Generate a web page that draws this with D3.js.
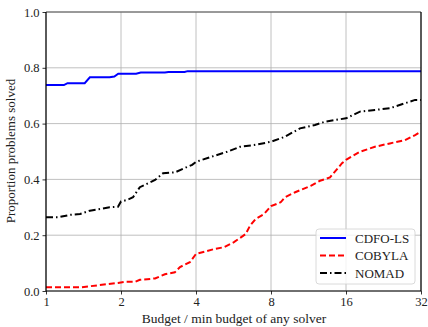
<!DOCTYPE html>
<html>
<head>
<meta charset="utf-8">
<script src="https://cdn.jsdelivr.net/npm/d3@7"></script>
<style>
  body { margin: 0; background: white; }
  svg { display: block; }
  text { font-family: "Liberation Serif", "DejaVu Serif", serif; fill: #222; }
</style>
</head>
<body>
<script>
// budget ratios (x) and proportions solved (y)
const cdfoBudget = [1, 1.18, 1.22, 1.43, 1.5, 1.8, 1.88, 1.95, 2.3, 2.4, 3.0, 3.1, 3.6, 3.7, 32];
const cdfoSolved = [0.738, 0.738, 0.745, 0.745, 0.766, 0.766, 0.769, 0.779, 0.779, 0.783, 0.783, 0.785, 0.785, 0.788, 0.788];

const cobylaBudget = [1, 1.37, 1.5, 1.945, 2.075, 2.28, 2.38, 2.74, 3.0, 3.29, 3.45, 3.78, 4, 4.72, 5.18, 5.68,
  6.33, 6.59, 6.94, 7.5, 8, 8.75, 9.1, 10, 11.55, 12.58, 13.8, 15.42, 16, 18.2, 20.9, 24, 27.6, 30.3, 32];
const cobylaSolved = [0.013, 0.013, 0.017, 0.029, 0.033, 0.033, 0.04, 0.045, 0.06, 0.067, 0.086, 0.103, 0.133, 0.15, 0.157, 0.175,
  0.204, 0.234, 0.258, 0.276, 0.304, 0.318, 0.336, 0.354, 0.377, 0.395, 0.407, 0.458, 0.47, 0.499, 0.517, 0.529, 0.541, 0.559, 0.571];

const nomadBudget = [1, 1.117, 1.25, 1.37, 1.5, 1.65, 1.8, 1.945, 2, 2.11, 2.235, 2.38, 2.54, 2.74, 2.95, 3.29, 3.65, 3.86, 4,
  4.72, 5.33, 6.01, 6.84, 8, 9.1, 10.46, 12.01, 13.18, 16, 18.2, 20.9, 24, 27.6, 30.3, 32];
const nomadSolved = [0.264, 0.264, 0.273, 0.276, 0.288, 0.294, 0.3, 0.302, 0.321, 0.326, 0.336, 0.372, 0.384, 0.398, 0.422, 0.425, 0.443, 0.452, 0.463,
  0.484, 0.499, 0.517, 0.523, 0.535, 0.553, 0.583, 0.595, 0.607, 0.619, 0.643, 0.649, 0.655, 0.673, 0.685, 0.685];

const xTicks = [1, 2, 4, 8, 16, 32];
const yTicks = [0, 0.2, 0.4, 0.6, 0.8, 1.0];

const series = [
  { name: 'CDFO-LS', color: '#0000ff', dash: null, xs: cdfoBudget, ys: cdfoSolved },
  { name: 'COBYLA', color: '#ff0000', dash: '6,3', xs: cobylaBudget, ys: cobylaSolved },
  { name: 'NOMAD', color: '#000000', dash: '7,3,1.5,3', xs: nomadBudget, ys: nomadSolved },
];

const width = 428;
const height = 327;
const marginLeft = 46;
const marginRight = 7;
const marginTop = 12;
const marginBottom = 36;

const x = d3.scaleLog().base(2)
  .domain([1, 32])
  .range([marginLeft, width - marginRight]);

const y = d3.scaleLinear()
  .domain([0, 1])
  .range([height - marginBottom, marginTop]);

const svg = d3.select('body').append('svg')
  .attr('width', width)
  .attr('height', height);

// grid
svg.append('g')
  .attr('stroke', '#b0b0b0')
  .attr('stroke-width', 0.8)
  .call((g) => g.selectAll('line.vx').data(xTicks).join('line')
    .attr('x1', (d) => x(d)).attr('x2', (d) => x(d))
    .attr('y1', y(0)).attr('y2', y(1)))
  .call((g) => g.selectAll('line.hy').data(yTicks).join('line')
    .attr('x1', x(1)).attr('x2', x(32))
    .attr('y1', (d) => y(d)).attr('y2', (d) => y(d)));

// lines
const line = d3.line()
  .x((d) => x(d[0]))
  .y((d) => y(d[1]));

series.forEach((s) => {
  svg.append('path')
    .datum(s.xs.map((v, i) => [v, s.ys[i]]))
    .attr('fill', 'none')
    .attr('stroke', s.color)
    .attr('stroke-width', 2)
    .attr('stroke-dasharray', s.dash)
    .attr('d', line);
});

// axes
const gx = svg.append('g')
  .attr('transform', `translate(0,${y(0)})`)
  .call(d3.axisBottom(x).tickValues(xTicks).tickFormat(d3.format('d')).tickSize(3.5).tickPadding(3));
const gy = svg.append('g')
  .attr('transform', `translate(${marginLeft},0)`)
  .call(d3.axisLeft(y).tickValues(yTicks).tickFormat(d3.format('.1f')).tickSize(3.5).tickPadding(3));

[gx, gy].forEach((g) => {
  g.attr('font-family', null);
  g.select('.domain').remove();
  g.selectAll('.tick line').attr('stroke', '#000').attr('stroke-width', 0.8);
  g.selectAll('.tick text')
    .attr('fill', '#222')
    .style('font-family', '"Liberation Serif", serif')
    .style('font-size', '12.5px');
});

// frame
svg.append('line').attr('x1', x(1)).attr('x2', x(32)).attr('y1', y(1)).attr('y2', y(1))
  .attr('stroke', '#555').attr('stroke-width', 1.2);
svg.append('line').attr('x1', x(32)).attr('x2', x(32)).attr('y1', y(0)).attr('y2', y(1))
  .attr('stroke', '#000').attr('stroke-width', 1.2);
svg.append('line').attr('x1', x(1)).attr('x2', x(1)).attr('y1', y(0)).attr('y2', y(1))
  .attr('stroke', '#000').attr('stroke-width', 1.2);
svg.append('line').attr('x1', x(1)).attr('x2', x(32)).attr('y1', y(0)).attr('y2', y(0))
  .attr('stroke', '#000').attr('stroke-width', 1.2);

// axis labels
svg.append('text')
  .attr('x', 234)
  .attr('y', 323)
  .attr('text-anchor', 'middle')
  .style('font-size', '13.5px')
  .text('Budget / min budget of any solver');

svg.append('text')
  .attr('transform', `translate(15,151) rotate(-90)`)
  .attr('text-anchor', 'middle')
  .style('font-size', '13px')
  .text('Proportion problems solved');

// legend
const legend = svg.append('g').attr('transform', 'translate(316,229)');
legend.append('rect')
  .attr('width', 99).attr('height', 55)
  .attr('rx', 3)
  .attr('fill', 'white').attr('fill-opacity', 0.8)
  .attr('stroke', '#d0d0d0').attr('stroke-width', 0.8);

series.forEach((s, i) => {
  const row = legend.append('g').attr('transform', `translate(0,${9 + i * 17.5})`);
  row.append('line')
    .attr('x1', 4).attr('x2', 30)
    .attr('stroke', s.color).attr('stroke-width', 2)
    .attr('stroke-dasharray', s.dash);
  row.append('text')
    .attr('x', 39).attr('y', 4.5)
    .style('font-size', '13px')
    .text(s.name);
});
</script>
</body>
</html>
